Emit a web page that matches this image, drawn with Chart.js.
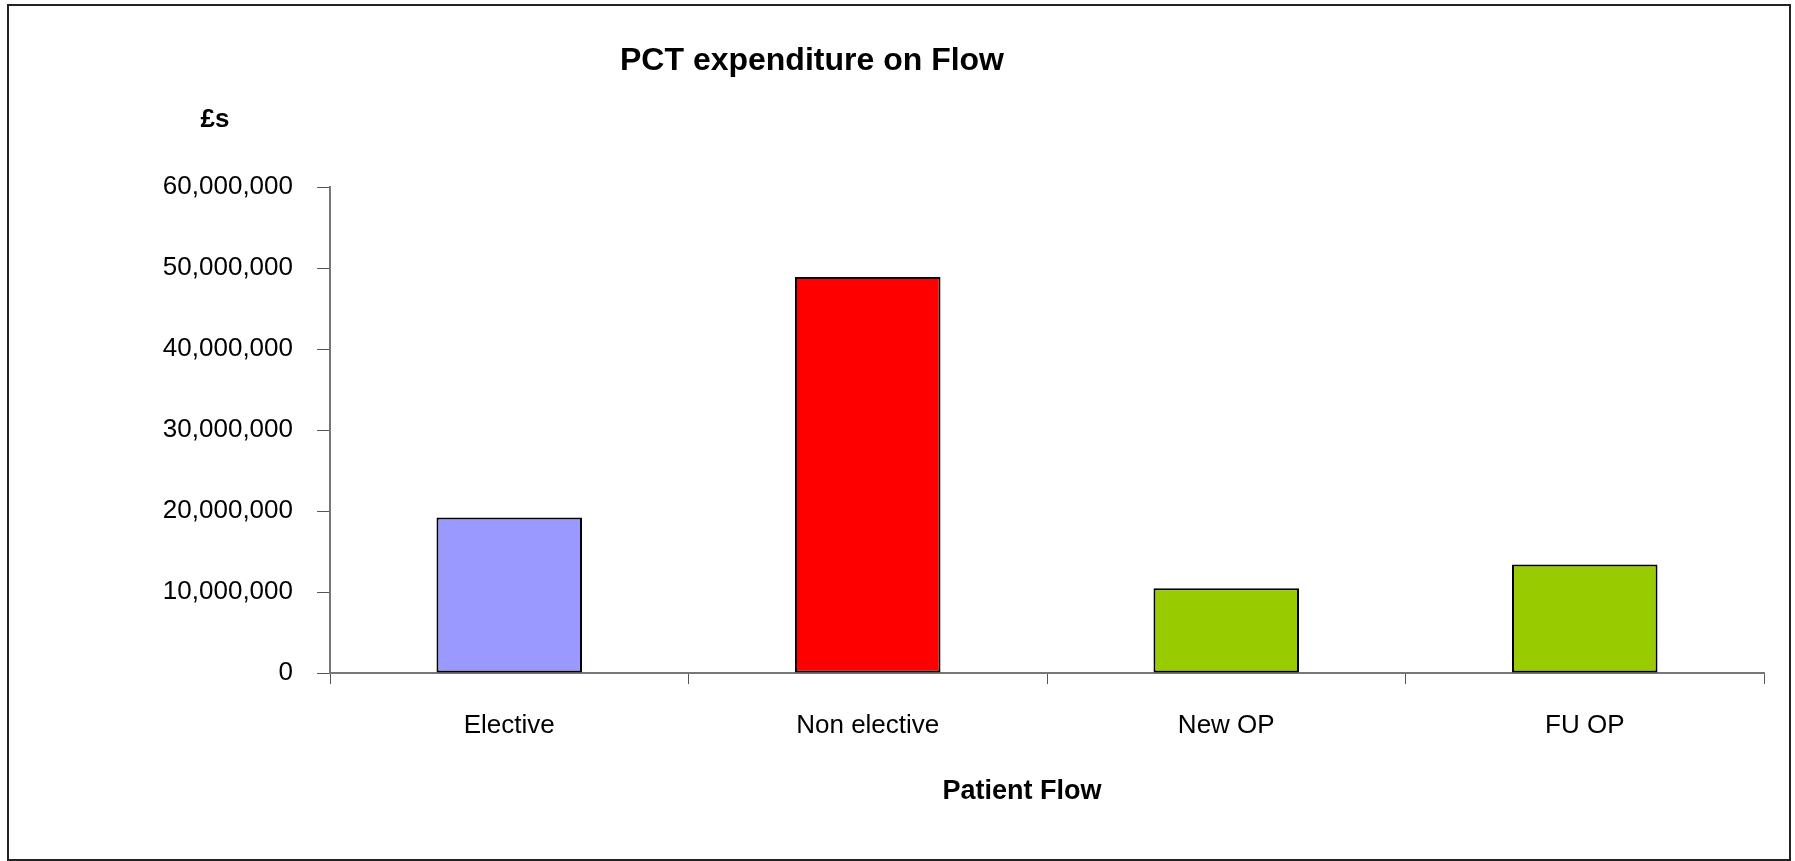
<!DOCTYPE html>
<html>
<head>
<meta charset="utf-8">
<script src="https://cdn.jsdelivr.net/npm/chart.js@4/dist/chart.umd.min.js"></script>
<style>
  html, body { margin: 0; padding: 0; background: #ffffff; }
  #wrap { position: relative; width: 1795px; height: 861px; }
</style>
</head>
<body>
<div id="wrap"><canvas id="c" width="1795" height="861"></canvas></div>
<script>
// ---- data ----
const chartTitle = 'PCT expenditure on Flow';
const yAxisTitle = '£s';
const xAxisTitle = 'Patient Flow';
const categories = ['Elective', 'Non elective', 'New OP', 'FU OP'];
const expenditure = [19200000, 48900000, 10450000, 13400000];
const yTickValues = [0, 10000000, 20000000, 30000000, 40000000, 50000000, 60000000];
const barColors = ['#9999FF', '#FF0000', '#99CC00', '#99CC00'];

const FONT = '"Liberation Sans", Arial, Helvetica, sans-serif';

const decorPlugin = {
  id: 'decor',
  beforeDraw(chart) {
    const ctx = chart.ctx;
    ctx.save();
    ctx.fillStyle = '#ffffff';
    ctx.fillRect(0, 0, chart.width, chart.height);
    ctx.strokeStyle = '#222222';
    ctx.lineWidth = 2;
    ctx.strokeRect(8, 5, 1782, 855);
    ctx.restore();
  },
  afterDraw(chart) {
    const ctx = chart.ctx;
    ctx.save();
    ctx.fillStyle = '#000000';
    ctx.textAlign = 'center';
    ctx.textBaseline = 'middle';
    ctx.font = 'bold 32px ' + FONT;
    ctx.fillText(chartTitle, 812, 61);
    ctx.font = 'bold 26px ' + FONT;
    ctx.fillText(yAxisTitle, 215, 120);
    ctx.font = 'bold 27px ' + FONT;
    ctx.fillText(xAxisTitle, 1022, 792);
    ctx.restore();
  }
};

new Chart(document.getElementById('c'), {
  type: 'bar',
  data: {
    labels: categories,
    datasets: [{
      data: expenditure,
      backgroundColor: barColors,
      borderColor: '#000000',
      borderWidth: 2,
      borderSkipped: false,
      categoryPercentage: 1.0,
      barPercentage: 0.406
    }]
  },
  options: {
    responsive: false,
    animation: false,
    devicePixelRatio: 1,
    layout: { padding: { top: 187, right: 31, bottom: 0, left: 0 } },
    plugins: {
      legend: { display: false },
      title: { display: false },
      tooltip: { enabled: false }
    },
    scales: {
      x: {
        grid: {
          display: true,
          drawOnChartArea: false,
          drawTicks: true,
          tickLength: 11,
          color: '#555555',
          offset: true
        },
        border: { display: true, color: '#777777', width: 2 },
        ticks: {
          color: '#000000',
          font: { family: FONT, size: 26 },
          padding: 26,
          maxRotation: 0,
          autoSkip: false
        },
        afterFit(scale) { scale.height = 861 - 673; }
      },
      y: {
        min: 0,
        max: 60000000,
        afterBuildTicks(scale) {
          scale.ticks = yTickValues.map(v => ({ value: v }));
        },
        grid: {
          display: true,
          drawOnChartArea: false,
          drawTicks: true,
          tickLength: 13,
          color: '#555555'
        },
        border: { display: true, color: '#777777', width: 2 },
        ticks: {
          color: '#000000',
          font: { family: FONT, size: 26 },
          padding: 24,
          labelOffset: 0,
          callback: (v) => Number(v).toLocaleString('en-US')
        },
        afterFit(scale) { scale.width = 330; }
      }
    }
  },
  plugins: [decorPlugin]
});
</script>
</body>
</html>
